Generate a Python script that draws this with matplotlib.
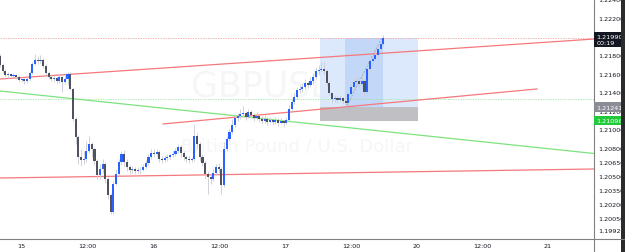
import matplotlib
matplotlib.use("Agg")
import matplotlib.pyplot as plt
from matplotlib.patches import Rectangle
from matplotlib.lines import Line2D
import numpy as np

# GBPUSD 30 min candles (close / high / low), open = previous close
first_open = 1.21791
closes = [
    1.21694, 1.21630, 1.21587, 1.21597, 1.21576, 1.21587, 1.21565, 1.21533, 1.21543, 1.21522,
    1.21543, 1.21608, 1.21705, 1.21748, 1.21737, 1.21748, 1.21683, 1.21608, 1.21565, 1.21543,
    1.21554, 1.21522, 1.21565, 1.21511, 1.21543, 1.21597, 1.21436, 1.21113, 1.20919, 1.20703,
    1.20671, 1.20682, 1.20768, 1.20843, 1.20790, 1.20660, 1.20510, 1.20574, 1.20628, 1.20466,
    1.20294, 1.20111, 1.20413, 1.20520, 1.20650, 1.20736, 1.20650, 1.20596, 1.20563, 1.20574,
    1.20553, 1.20563, 1.20563, 1.20596, 1.20639, 1.20703, 1.20746, 1.20736, 1.20757, 1.20682,
    1.20671, 1.20693, 1.20703, 1.20725, 1.20736, 1.20768, 1.20811, 1.20746, 1.20703, 1.20682,
    1.20671, 1.20682, 1.20930, 1.20843, 1.20703, 1.20639, 1.20520, 1.20488, 1.20466, 1.20531,
    1.20596, 1.20574, 1.20402, 1.20790, 1.20897, 1.20973, 1.21048, 1.21123, 1.21145, 1.21166,
    1.21177, 1.21134, 1.21188, 1.21156, 1.21123, 1.21145, 1.21113, 1.21091, 1.21113, 1.21080,
    1.21102, 1.21080, 1.21102, 1.21070, 1.21091, 1.21070, 1.21102, 1.21220, 1.21296, 1.21350,
    1.21425, 1.21436, 1.21457, 1.21500, 1.21479, 1.21522, 1.21565, 1.21630, 1.21640, 1.21651,
    1.21630, 1.21500, 1.21393, 1.21328, 1.21339, 1.21317, 1.21339, 1.21307, 1.21285, 1.21382,
    1.21457, 1.21511, 1.21522, 1.21490, 1.21522, 1.21403, 1.21651, 1.21737, 1.21759, 1.21802,
    1.21867, 1.21920, 1.21985,
]
highs = [
    1.21813, 1.21716, 1.21651, 1.21619, 1.21608, 1.21608, 1.21597, 1.21587, 1.21565, 1.21554,
    1.21565, 1.21630, 1.21727, 1.21813, 1.21791, 1.21802, 1.21770, 1.21705, 1.21630, 1.21587,
    1.21587, 1.21576, 1.21587, 1.21576, 1.21587, 1.21619, 1.21619, 1.21447, 1.21134, 1.20940,
    1.20790, 1.20768, 1.20876, 1.20930, 1.20865, 1.20811, 1.20682, 1.20628, 1.20682, 1.20650,
    1.20488, 1.20316, 1.20445, 1.20574, 1.20682, 1.20768, 1.20779, 1.20682, 1.20617, 1.20606,
    1.20596, 1.20596, 1.20596, 1.20628, 1.20671, 1.20736, 1.20790, 1.20790, 1.20790, 1.20779,
    1.20714, 1.20725, 1.20736, 1.20746, 1.20768, 1.20800, 1.20843, 1.20833, 1.20768, 1.20725,
    1.20714, 1.20703, 1.21048, 1.20962, 1.20865, 1.20736, 1.20660, 1.20553, 1.20520, 1.20574,
    1.20628, 1.20639, 1.20596, 1.20865, 1.20930, 1.21005, 1.21113, 1.21166, 1.21177, 1.21220,
    1.21253, 1.21199, 1.21220, 1.21210, 1.21177, 1.21188, 1.21166, 1.21145, 1.21156, 1.21134,
    1.21134, 1.21123, 1.21134, 1.21123, 1.21123, 1.21113, 1.21134, 1.21263, 1.21339, 1.21393,
    1.21457, 1.21479, 1.21500, 1.21543, 1.21522, 1.21565, 1.21608, 1.21673, 1.21694, 1.21727,
    1.21727, 1.21651, 1.21511, 1.21403, 1.21371, 1.21360, 1.21371, 1.21350, 1.21339, 1.21414,
    1.21490, 1.21554, 1.21576, 1.21565, 1.21576, 1.21543, 1.21727, 1.21780, 1.21802, 1.21845,
    1.21910, 1.21953, 1.22017,
]
lows = [
    1.21673, 1.21608, 1.21565, 1.21554, 1.21554, 1.21554, 1.21543, 1.21511, 1.21511, 1.21490,
    1.21500, 1.21522, 1.21597, 1.21694, 1.21705, 1.21716, 1.21662, 1.21587, 1.21543, 1.21522,
    1.21511, 1.21500, 1.21500, 1.21403, 1.21490, 1.21479, 1.21425, 1.21091, 1.20843, 1.20628,
    1.20606, 1.20628, 1.20650, 1.20746, 1.20703, 1.20617, 1.20466, 1.20466, 1.20531, 1.20423,
    1.20251, 1.20089, 1.20089, 1.20402, 1.20499, 1.20617, 1.20606, 1.20553, 1.20520, 1.20531,
    1.20520, 1.20531, 1.20520, 1.20553, 1.20574, 1.20617, 1.20682, 1.20703, 1.20714, 1.20650,
    1.20639, 1.20650, 1.20660, 1.20682, 1.20703, 1.20714, 1.20746, 1.20703, 1.20671, 1.20650,
    1.20639, 1.20650, 1.20660, 1.20790, 1.20660, 1.20606, 1.20466, 1.20305, 1.20413, 1.20445,
    1.20510, 1.20531, 1.20305, 1.20380, 1.20768, 1.20876, 1.20951, 1.21026, 1.21091, 1.21113,
    1.21134, 1.21102, 1.21123, 1.21123, 1.21091, 1.21102, 1.21080, 1.21059, 1.21070, 1.21048,
    1.21070, 1.21048, 1.21059, 1.21037, 1.21059, 1.21026, 1.21059, 1.21080, 1.21199, 1.21274,
    1.21328, 1.21393, 1.21403, 1.21436, 1.21447, 1.21457, 1.21490, 1.21543, 1.21587, 1.21619,
    1.21597, 1.21479, 1.21371, 1.21285, 1.21296, 1.21285, 1.21296, 1.21274, 1.21253, 1.21263,
    1.21360, 1.21436, 1.21479, 1.21457, 1.21468, 1.21371, 1.21382, 1.21630, 1.21705, 1.21737,
    1.21780, 1.21845, 1.21899,
]

time_ticks = [7.8, 32.2, 56.7, 81.1, 105.6, 130.0, 154.1, 178.5, 203.0]
time_labels = ["15", "12:00", "16", "12:00", "17", "12:00", "20", "12:00", "21"]

price_ticks = [1.2240, 1.2220, 1.2180, 1.2160, 1.2140, 1.2120, 1.2100,
               1.2080, 1.2065, 1.2050, 1.2035, 1.2020, 1.2005, 1.1992]

last_price = 1.21990
entry_price = 1.21241
stop_price = 1.21096
alert_price = 1.21328

# drawings (bar, price)
upper_red = ([0, 220], [1.21543, 1.21974])
mid_red = ([60.4, 198.9], [1.21059, 1.21436])
lower_red = ([0, 220], [1.20477, 1.20574])
green_line = ([0, 220], [1.21414, 1.20741])
pos_left, pos_mid, pos_now, pos_right = 118.5, 127.8, 141.9, 154.8

fig = plt.figure(figsize=(6.25, 2.53), dpi=100)
ax = fig.add_axes([0, 13 / 253, 594 / 625, 240 / 253])
ax.set_xlim(0, 220)
ax.set_ylim(1.19820, 1.22405)

# watermark
ax.text(110, 1.21468, "GBPUSD, 30", ha="center", va="center", fontsize=25,
        color="#f5f6f8", zorder=0)
ax.text(110, 1.20822, "British Pound / U.S. Dollar", ha="center", va="center",
        fontsize=13, color="#f5f6f8", zorder=0)

# position tool
ax.add_patch(Rectangle((pos_left, entry_price), pos_right - pos_left, last_price - entry_price,
                       facecolor="#dce8fb", edgecolor="none", zorder=1))
ax.add_patch(Rectangle((pos_mid, entry_price), pos_now - pos_mid, last_price - entry_price,
                       facecolor="#c3d8f8", edgecolor="none", zorder=1))
ax.add_patch(Rectangle((pos_left, stop_price), pos_right - pos_left, entry_price - stop_price,
                       facecolor="#c0c0c4", edgecolor="none", zorder=1))
ax.plot([pos_mid + 0.7, pos_now - 0.4], [entry_price + 0.0002, last_price], color="#9a9a9a",
        lw=0.6, ls=(0, (2, 2)), zorder=2)

# horizontal dotted lines
ax.axhline(last_price, color="#f2a0a0", lw=0.6, ls=(0, (1.5, 1.5)), zorder=2)
ax.axhline(alert_price, color="#9be69b", lw=0.6, ls=(0, (1.5, 1.5)), zorder=2)

# trend lines
for xs, ys in (upper_red, mid_red, lower_red):
    ax.plot(xs, ys, color="#f4787c", lw=0.9, zorder=3)
ax.plot(*green_line, color="#7ee27e", lw=0.9, zorder=3)

# candles
c = np.array(closes)
o = np.array([first_open] + closes[:-1])
x = np.arange(len(c))
up = c >= o
ax.vlines(x, lows, highs, color="#c8cbd3", lw=0.6, zorder=4)
body = np.where(np.abs(c - o) < 0.00004, 0.00004, c - o)
ax.bar(x, body, bottom=o, width=0.75, color=np.where(up, "#2962ff", "#50535e"),
       linewidth=0, zorder=5)

# axes styling
for s in ("top", "left"):
    ax.spines[s].set_visible(False)
ax.spines["right"].set_color("#808080")
ax.spines["right"].set_linewidth(0.8)
ax.spines["bottom"].set_visible(False)
ax.yaxis.tick_right()
ax.set_yticks(price_ticks)
ax.set_yticklabels([f"{p:.5f}" for p in price_ticks])
ax.tick_params(axis="y", length=0, pad=3, labelsize=4.6, labelcolor="#131722")
ax.set_xticks(time_ticks)
ax.set_xticklabels(time_labels)
ax.tick_params(axis="x", length=0, pad=3, labelsize=4.6, labelcolor="#131722")

# price labels on axis
tr = ax.get_yaxis_transform()
ax.text(1.004, last_price - 0.00022, f"{last_price:.5f}\n00:19", transform=tr, ha="left",
        va="center", fontsize=4.6, color="white", linespacing=1.3, zorder=10, clip_on=False,
        bbox=dict(boxstyle="square,pad=0.35", fc="#131722", ec="none"))
ax.text(1.004, entry_price, f"{entry_price:.5f}", transform=tr, ha="left", va="center",
        fontsize=4.6, color="white", zorder=10, clip_on=False,
        bbox=dict(boxstyle="square,pad=0.35", fc="#8a8d96", ec="none"))
ax.text(1.004, stop_price, f"{stop_price:.5f}", transform=tr, ha="left", va="center",
        fontsize=4.6, color="white", zorder=10, clip_on=False,
        bbox=dict(boxstyle="square,pad=0.35", fc="#22c93a", ec="none"))

# frame lines and right edge
fig.add_artist(Line2D([0, 1], [13 / 253, 13 / 253], color="#808080", lw=0.8))
fig.add_artist(Line2D([594 / 625, 594 / 625], [0, 13 / 253], color="#808080", lw=0.8))
fig.add_artist(Rectangle((621 / 625, 0), 4 / 625, 1, transform=fig.transFigure,
                         facecolor="#2b2b2b", edgecolor="none"))

fig.savefig("out.png", dpi=100)
